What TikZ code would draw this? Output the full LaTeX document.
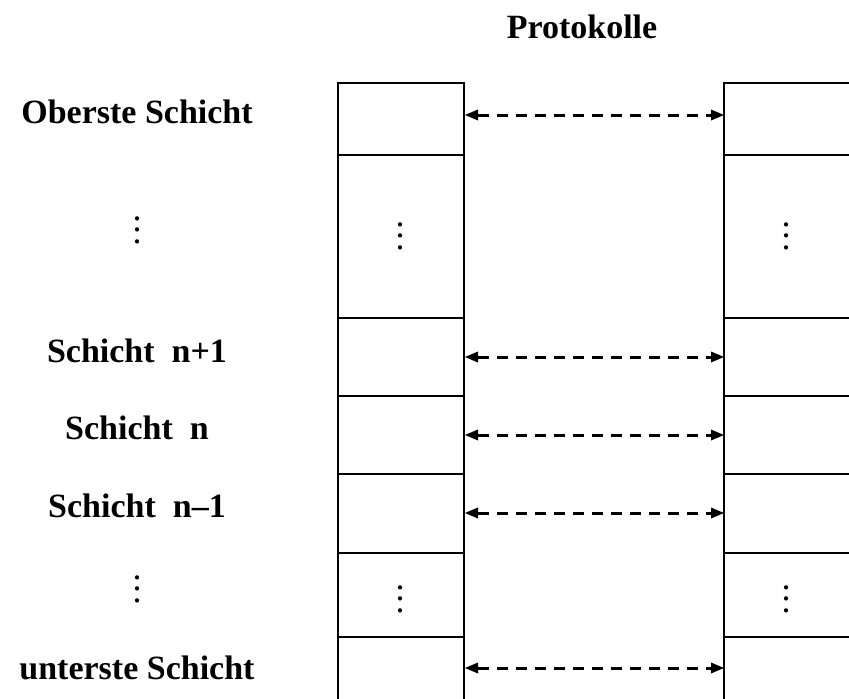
\documentclass[tikz,border=0pt]{standalone}
\usepackage{fontspec}
\setmainfont{Liberation Serif}
\usetikzlibrary{arrows.meta}
\begin{document}
\begin{tikzpicture}[x=1pt,y=-1pt,
  lbl/.style={font=\fontsize{34}{40}\selectfont\bfseries, anchor=base, inner sep=0pt},
  vdts/.style={font=\fontsize{36}{11.5}\selectfont, align=center, inner sep=0pt},
  colbox/.style={draw, line width=1.3pt},
  tip/.style={},
  proto/.style={line width=3pt, dash pattern=on 11pt off 8pt,
    {Triangle[length=13pt,width=11pt,line width=0pt]}-{Triangle[length=13pt,width=11pt,line width=0pt]}}]
\useasboundingbox (0,0) rectangle (849,699);
% columns
\draw[colbox] (338,702) -- (338,83) -- (464,83) -- (464,702);
\draw[colbox] (852,83) -- (724,83) -- (724,702);
\foreach \yy in {155,318,396,474,553,637}{
  \draw[colbox] (338,\yy) -- (464,\yy);
  \draw[colbox] (724,\yy) -- (852,\yy);
}
% anchors for connectors
\coordinate (l1) at (465,115); \coordinate (r1) at (724,115);
\coordinate (l2) at (465,357); \coordinate (r2) at (724,357);
\coordinate (l3) at (465,435); \coordinate (r3) at (724,435);
\coordinate (l4) at (465,513); \coordinate (r4) at (724,513);
\coordinate (l5) at (465,668); \coordinate (r5) at (724,668);
\foreach \i in {1,...,5}{ \draw[proto] (l\i) -- (r\i); }
% labels
\node[lbl] (title) at (582,38) {Protokolle};
\node[lbl] (top) at (137,123) {Oberste Schicht};
\node[lbl] (np1) at (137,362) {Schicht~~n+1};
\node[lbl] (n) at (137,439) {Schicht~~n};
\node[lbl] (nm1) at (137,517) {Schicht~~n–1};
\node[lbl] (bot) at (137,679) {unterste Schicht};
% dots
\node[vdts] (d1) at (137,230) {.\\.\\.};
\node[vdts] (d2) at (400,236) {.\\.\\.};
\node[vdts] (d3) at (786,236) {.\\.\\.};
\node[vdts] (d4) at (137,589) {.\\.\\.};
\node[vdts] (d5) at (400,599) {.\\.\\.};
\node[vdts] (d6) at (786,599) {.\\.\\.};
\end{tikzpicture}
\end{document}
